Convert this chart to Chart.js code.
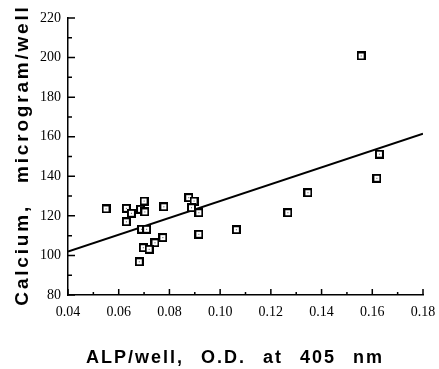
<!DOCTYPE html>
<html>
<head>
<meta charset="utf-8">
<script src="https://cdn.jsdelivr.net/npm/chart.js@4/dist/chart.umd.min.js"></script>
<style>
  body { margin: 0; background: #fff; }
</style>
</head>
<body>
<canvas id="chart" width="439" height="369"></canvas>
<script>
// values
const alpX = [0.055, 0.063, 0.065, 0.063, 0.070, 0.0686, 0.0703, 0.0778, 0.069, 0.071,
  0.0774, 0.0743, 0.0697, 0.072, 0.0681, 0.0876, 0.0897, 0.0887, 0.0916, 0.0916,
  0.1064, 0.1267, 0.1346, 0.1556, 0.1628, 0.1618];
const calciumY = [123.5, 123.8, 121.3, 117, 127.5, 123.3, 122, 124.6, 113.2, 113.2,
  109, 106.4, 103.9, 103.1, 96.8, 129.2, 127.5, 124.1, 121.6, 110.7,
  113, 121.6, 131.7, 200.8, 151.2, 139];
const fitX = [0.04, 0.18];
const fitY = [102, 161.5];

const xTicks = [0.04, 0.06, 0.08, 0.10, 0.12, 0.14, 0.16, 0.18];
const yTicks = [80, 100, 120, 140, 160, 180, 200, 220];
const xTitle = "ALP/well, O.D. at 405 nm";
const yTitle = "Calcium, microgram/well";

// square marker: black box, white centre, small dot
const marker = document.createElement("canvas");
marker.width = 9;
marker.height = 9;
const mctx = marker.getContext("2d");
mctx.fillStyle = "#000";
mctx.fillRect(0, 0, 9, 9);
mctx.fillStyle = "#fff";
mctx.fillRect(2, 2, 5, 5);
mctx.fillStyle = "#555";
mctx.fillRect(4, 4, 1, 1);

// ticks pointing into the plot, majors + minors
const innerTicks = {
  id: "innerTicks",
  afterDraw(chart) {
    const ctx = chart.ctx;
    const x = chart.scales.x;
    const y = chart.scales.y;
    const area = chart.chartArea;
    ctx.save();
    ctx.strokeStyle = "#000";
    ctx.lineWidth = 1.5;
    ctx.beginPath();
    for (let i = 4; i <= 18; i++) {
      const px = x.getPixelForValue(i / 100);
      const len = i % 2 === 0 ? 6 : 3;
      ctx.moveTo(px, area.bottom);
      ctx.lineTo(px, area.bottom - len);
    }
    for (let v = 80; v <= 220; v += 10) {
      const py = y.getPixelForValue(v);
      const len = v % 20 === 0 ? 7 : 4;
      ctx.moveTo(area.left, py);
      ctx.lineTo(area.left + len, py);
    }
    ctx.stroke();
    ctx.restore();
  }
};

// wide-spaced bold axis titles like the scanned figure
const axisTitles = {
  id: "axisTitles",
  afterDraw(chart) {
    const ctx = chart.ctx;
    ctx.save();
    ctx.fillStyle = "#000";
    ctx.textAlign = "center";
    ctx.textBaseline = "alphabetic";

    ctx.font = "bold 18px 'Liberation Sans'";
    ctx.letterSpacing = "2px";
    ctx.wordSpacing = "10px";
    ctx.fillText(xTitle, 235, 363);

    ctx.translate(28, 155);
    ctx.rotate(-Math.PI / 2);
    ctx.font = "bold 19px 'Liberation Sans'";
    ctx.letterSpacing = "2.8px";
    ctx.wordSpacing = "13px";
    ctx.fillText(yTitle, 0, 0);
    ctx.restore();
  }
};

new Chart(document.getElementById("chart"), {
  type: "scatter",
  data: {
    datasets: [
      {
        data: alpX.map((v, i) => ({ x: v, y: calciumY[i] })),
        pointStyle: marker,
        pointRadius: 4.5,
        showLine: false,
        order: 1
      },
      {
        data: fitX.map((v, i) => ({ x: v, y: fitY[i] })),
        showLine: true,
        borderColor: "#000",
        borderWidth: 2,
        pointRadius: 0,
        order: 2
      }
    ]
  },
  options: {
    responsive: false,
    animation: false,
    layout: { padding: { top: 18, right: 16, left: 0, bottom: 0 } },
    plugins: { legend: { display: false }, tooltip: { enabled: false } },
    scales: {
      x: {
        type: "linear",
        min: 0.04,
        max: 0.18,
        afterBuildTicks: (s) => { s.ticks = xTicks.map(v => ({ value: v })); },
        afterFit: (s) => { s.height = 74; s.paddingRight = 0; s.paddingLeft = 0; },
        ticks: {
          color: "#000",
          padding: 9,
          font: { family: "Liberation Serif", size: 14 },
          callback: (v) => v.toFixed(2)
        },
        grid: { drawOnChartArea: false, drawTicks: false },
        border: { color: "#000", width: 1.5 }
      },
      y: {
        type: "linear",
        min: 80,
        max: 220,
        afterBuildTicks: (s) => { s.ticks = yTicks.map(v => ({ value: v })); },
        afterFit: (s) => { s.width = 68; s.paddingTop = 0; s.paddingBottom = 0; },
        ticks: {
          color: "#000",
          padding: 7,
          font: { family: "Liberation Serif", size: 14 }
        },
        grid: { drawOnChartArea: false, drawTicks: false },
        border: { color: "#000", width: 1.5 }
      }
    }
  },
  plugins: [innerTicks, axisTitles]
});
</script>
</body>
</html>
